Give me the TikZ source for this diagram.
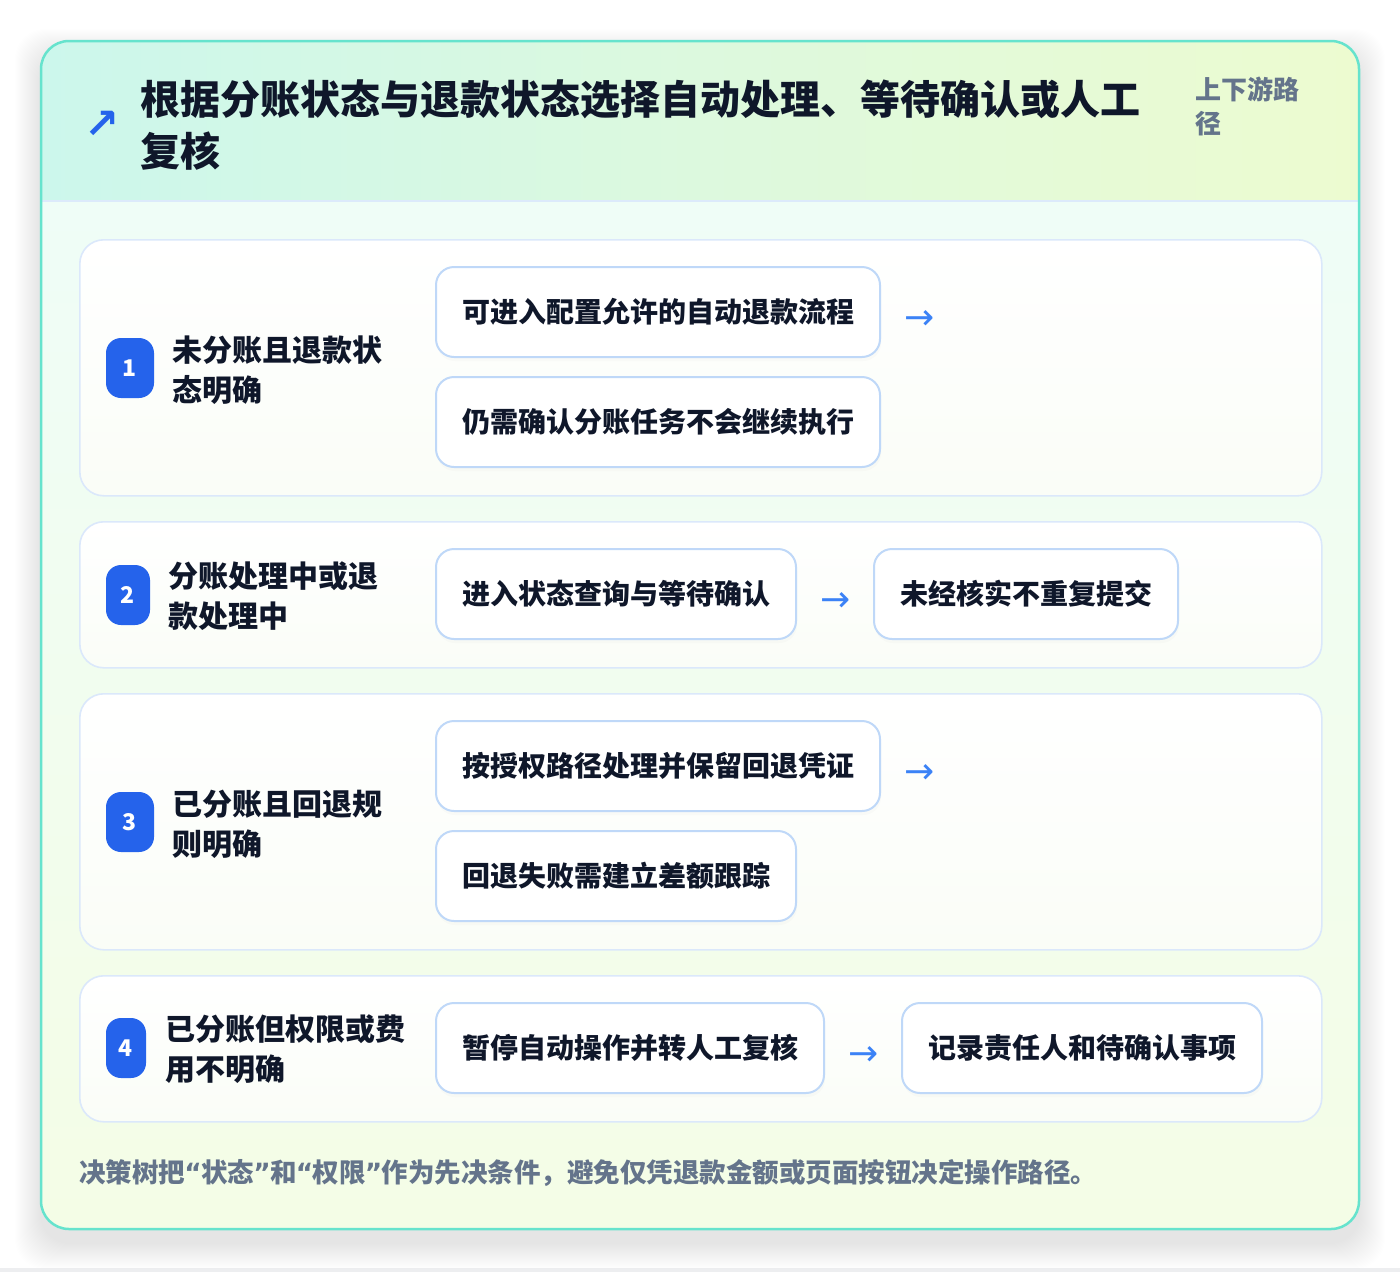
\documentclass[tikz,border=0pt]{standalone}
\usepackage{fontspec}
\newfontfamily\cjk{Noto Sans CJK SC}
\newfontfamily\symfont{DejaVu Sans}
\usetikzlibrary{shadows}
\definecolor{cardline}{HTML}{66E3CD}
\definecolor{hdrl}{HTML}{CCF7EC}
\definecolor{hdrr}{HTML}{EDFBD0}
\definecolor{hdrline}{HTML}{DCEAFB}
\definecolor{bodytop}{HTML}{EFFDF7}
\definecolor{bodybot}{HTML}{F4FDE6}
\definecolor{rowline}{HTML}{DBE8FB}
\definecolor{rowbot}{HTML}{FAFDF7}
\definecolor{boxline}{HTML}{BFD8F8}
\definecolor{badgeblue}{HTML}{2563EB}
\definecolor{ink}{HTML}{0F172A}
\definecolor{muted}{HTML}{64748B}
\definecolor{arrowblue}{HTML}{3B82F6}
\definecolor{strip}{HTML}{EDEEF0}
\newcommand{\oq}{\makebox[16pt][c]{\symfont\bfseries “}}
\newcommand{\cq}{\makebox[16pt][c]{\symfont\bfseries ”}}
\begin{document}
\begin{tikzpicture}[x=1pt,y=-1pt,
  rowbox/.style={draw=rowline, line width=1.6pt, rounded corners=24pt, top color=white, bottom color=rowbot, minimum width=1242pt, anchor=north west, inner sep=0pt},
  stepcard/.style={draw=boxline, line width=2pt, fill=white, rounded corners=18pt, inner xsep=26pt, inner ysep=0pt, minimum height=90pt, anchor=west, text=ink, font={\cjk\bfseries\fontsize{28pt}{34pt}\selectfont}, drop shadow={opacity=0.03, shadow xshift=1pt, shadow yshift=-4pt}},
  lbl/.style={align=left, anchor=west, inner sep=0pt, text=ink, font={\cjk\bfseries\fontsize{30pt}{40pt}\selectfont}},
  badge/.style={fill=badgeblue, rounded corners=15pt, minimum height=60pt, inner sep=0pt, text=white, font={\cjk\bfseries\fontsize{23pt}{26pt}\selectfont}},
  flow/.style={inner sep=0pt, text=arrowblue, font={\symfont\fontsize{36pt}{36pt}\selectfont}},
]
\useasboundingbox (0,0) rectangle (1400,1272);
\fill[white] (0,0) rectangle (1400,1272);
\fill[strip] (0,1268) rectangle (1400,1272);
% soft card shadow
\foreach \i in {1,...,26}{
  \fill[black, opacity=0.003, rounded corners=30pt] (41-\i,41-\i+14) rectangle (1359+\i,1229+\i+14);
}
% card
\begin{scope}
  \clip[rounded corners=28pt] (41,41) rectangle (1359,1229);
  \shade[top color=bodytop, bottom color=bodybot] (41,200) rectangle (1359,1229);
  \shade[left color=hdrl, right color=hdrr] (41,41) rectangle (1359,201);
  \draw[hdrline, line width=2pt] (41,201) -- (1359,201);
\end{scope}
\draw[cardline, line width=2.5pt, rounded corners=28pt] (41,41) rectangle (1359,1229);

% header
\node[inner sep=0pt, text=badgeblue, font={\symfont\bfseries\fontsize{42pt}{42pt}\selectfont}] (icon) at (102,125) {↗};
\node[align=left, anchor=west, inner sep=0pt, text=ink, font={\cjk\bfseries\fontsize{40pt}{52pt}\selectfont}] (title) at (140,125) {根据分账状态与退款状态选择自动处理、等待确认或人工\\复核};
\node[align=left, anchor=west, inner sep=0pt, text=muted, font={\cjk\bfseries\fontsize{26pt}{34pt}\selectfont}] (side) at (1195,106) {上下游路\\径};

% rows
\node[rowbox, minimum height=256pt] (row1) at (79,239) {};
\node[rowbox, minimum height=146pt] (row2) at (79,521) {};
\node[rowbox, minimum height=256pt] (row3) at (79,693) {};
\node[rowbox, minimum height=146pt] (row4) at (79,975) {};

% row 1
\node[badge, minimum width=48pt] (n1) at (130,368) {1};
\node[lbl] (l1) at (172,370) {未分账且退款状\\态明确};
\node[stepcard] (r1a) at (435,312) {可进入配置允许的自动退款流程};
\node[stepcard] (r1b) at (435,422) {仍需确认分账任务不会继续执行};
\node[flow] (a1) at (920,320) {→};

% row 2
\node[badge, minimum width=44pt] (n2) at (128,595) {2};
\node[lbl] (l2) at (168,596) {分账处理中或退\\款处理中};
\node[stepcard] (r2a) at (435,594) {进入状态查询与等待确认};
\node[flow] (a2) at (836,602) {→};
\node[stepcard] (r2b) at (873,594) {未经核实不重复提交};

% row 3
\node[badge, minimum width=48pt] (n3) at (130,822) {3};
\node[lbl] (l3) at (172,824) {已分账且回退规\\则明确};
\node[stepcard] (r3a) at (435,766) {按授权路径处理并保留回退凭证};
\node[stepcard] (r3b) at (435,876) {回退失败需建立差额跟踪};
\node[flow] (a3) at (920,774) {→};

% row 4
\node[badge, minimum width=40pt] (n4) at (126,1048) {4};
\node[lbl] (l4) at (165,1049) {已分账但权限或费\\用不明确};
\node[stepcard] (r4a) at (435,1048) {暂停自动操作并转人工复核};
\node[flow] (a4) at (864,1056) {→};
\node[stepcard] (r4b) at (901,1048) {记录责任人和待确认事项};

% footer
\node[anchor=west, inner sep=0pt, text=muted, font={\cjk\bfseries\fontsize{26.5pt}{32pt}\selectfont}] (foot) at (79,1173) {决策树把\oq 状态\cq 和\oq 权限\cq 作为先决条件，避免仅凭退款金额或页面按钮决定操作路径。};
\end{tikzpicture}
\end{document}
